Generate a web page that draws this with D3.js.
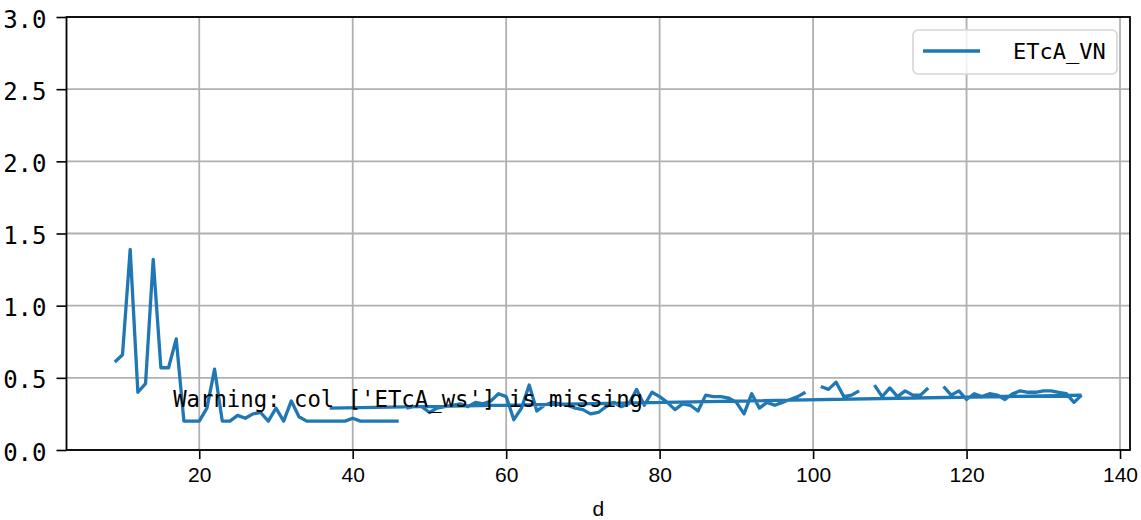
<!DOCTYPE html>
<html>
<head>
<meta charset="utf-8">
<script src="https://cdn.jsdelivr.net/npm/d3@7"></script>
<style>
    body { margin: 0; background: #fff; }
</style>
</head>
<body>
<div id="chart"></div>
<script>
// Day number and ETcA_VN value; null marks a break in the line
const days = [
    9, 10, 11, 12, 13, 14, 15, 16, 17, 18, 19, 20, 21, 22, 23, 24, 25, 26, 27, 28,
    29, 30, 31, 32, 33, 34, 35, 36, 37, 38, 39, 40, 41, 42, 43, 44, 45, 46, null,
    47, 48, 49, 50, 51, 52, 53, 54, 55, 56, 57, 58, 59, 60, 61, 62, 63, 64, 65, 66,
    67, 68, 69, 70, 71, 72, 73, 74, 75, 76, 77, 78, 79, 80, 81, 82, 83, 84, 85, 86,
    87, 88, 89, 90, 91, 92, 93, 94, 95, 96, 97, 98, 99, null,
    101, 102, 103, 104, 105, 106, null,
    108, 109, 110, 111, 112, 113, 114, 115, null,
    117, 118, 119, 120, 121, 122, 123, 124, 125, 126, 127, 128, 129, 130, 131, 132,
    133, 134, 135, null,
    37, 135
];
const etcaVN = [
    0.61, 0.66, 1.39, 0.40, 0.46, 1.32, 0.57, 0.57, 0.77, 0.20, 0.20, 0.20, 0.29, 0.56, 0.20, 0.20, 0.24, 0.22, 0.25, 0.26,
    0.20, 0.29, 0.20, 0.34, 0.23, 0.20, 0.20, 0.20, 0.20, 0.20, 0.20, 0.22, 0.20, 0.20, 0.20, 0.20, 0.20, 0.20, null,
    0.29, 0.30, 0.30, 0.26, 0.29, 0.30, 0.31, 0.32, 0.30, 0.33, 0.32, 0.34, 0.39, 0.37, 0.21, 0.29, 0.45, 0.27, 0.31, 0.33,
    0.32, 0.31, 0.29, 0.28, 0.25, 0.26, 0.30, 0.33, 0.30, 0.32, 0.42, 0.31, 0.40, 0.37, 0.33, 0.28, 0.32, 0.31, 0.27, 0.38,
    0.37, 0.37, 0.36, 0.33, 0.25, 0.39, 0.29, 0.33, 0.31, 0.33, 0.35, 0.37, 0.40, null,
    0.44, 0.42, 0.47, 0.37, 0.38, 0.41, null,
    0.45, 0.37, 0.43, 0.37, 0.41, 0.38, 0.38, 0.43, null,
    0.44, 0.38, 0.41, 0.35, 0.39, 0.37, 0.39, 0.38, 0.35, 0.39, 0.41, 0.40, 0.40, 0.41, 0.41, 0.40,
    0.39, 0.33, 0.38, null,
    0.29, 0.38
];
const xTicks = [20, 40, 60, 80, 100, 120, 140];
const yTicks = [0, 0.5, 1.0, 1.5, 2.0, 2.5, 3.0];
const seriesName = 'ETcA_VN';
const warningText = "Warning: col ['ETcA_ws'] is missing";

const W = 1141, H = 520;
const plot = { left: 66.5, right: 1130, top: 17, bottom: 450 };
const blue = '#1f77b4';
const mono = '"DejaVu Sans Mono", monospace';
const sans = '"Liberation Sans", Arial, sans-serif';

const svg = d3.select('#chart').append('svg')
    .attr('width', W)
    .attr('height', H);

const x = d3.scaleLinear().domain([2.7, 141.3]).range([plot.left, plot.right]);
const y = d3.scaleLinear().domain([0, 3]).range([plot.bottom, plot.top]);

// Grid
svg.append('g')
    .selectAll('line')
    .data(xTicks)
    .enter().append('line')
    .attr('x1', d => x(d)).attr('x2', d => x(d))
    .attr('y1', plot.top).attr('y2', plot.bottom)
    .attr('stroke', '#b0b0b0').attr('stroke-width', 1.8);

svg.append('g')
    .selectAll('line')
    .data(yTicks)
    .enter().append('line')
    .attr('x1', plot.left).attr('x2', plot.right)
    .attr('y1', d => y(d)).attr('y2', d => y(d))
    .attr('stroke', '#b0b0b0').attr('stroke-width', 1.8);

// Series
const pts = days.map((d, i) => ({ d: d, v: etcaVN[i] }));
const line = d3.line()
    .defined(p => p.d !== null && p.v !== null)
    .x(p => x(p.d))
    .y(p => y(p.v));

svg.append('path')
    .datum(pts)
    .attr('d', line)
    .attr('fill', 'none')
    .attr('stroke', blue)
    .attr('stroke-width', 3.3)
    .attr('stroke-linejoin', 'round');

// Warning note
svg.append('text')
    .attr('x', x(16.6))
    .attr('y', y(0.3))
    .attr('font-family', mono)
    .attr('font-size', '22.3px')
    .attr('fill', '#000')
    .text(warningText);

// Axes
const xAxis = svg.append('g')
    .attr('transform', `translate(0,${plot.bottom})`)
    .call(d3.axisBottom(x).tickValues(xTicks).tickSize(9).tickPadding(8).tickFormat(d3.format('d')));
xAxis.select('.domain').remove();
xAxis.selectAll('line').attr('stroke', '#000').attr('stroke-width', 1.6);
xAxis.selectAll('text')
    .attr('font-family', sans)
    .attr('font-size', '21px')
    .attr('fill', '#000');

const yAxis = svg.append('g')
    .attr('transform', `translate(${plot.left},0)`)
    .call(d3.axisLeft(y).tickValues(yTicks).tickSize(10).tickPadding(10).tickFormat(d3.format('.1f')));
yAxis.select('.domain').remove();
yAxis.selectAll('line').attr('stroke', '#000').attr('stroke-width', 1.6);
yAxis.selectAll('text')
    .attr('font-family', mono)
    .attr('font-size', '24px')
    .attr('dy', '10px')
    .attr('fill', '#000');

svg.append('rect')
    .attr('x', plot.left).attr('y', plot.top)
    .attr('width', plot.right - plot.left)
    .attr('height', plot.bottom - plot.top)
    .attr('fill', 'none')
    .attr('stroke', '#000')
    .attr('stroke-width', 1.8);

svg.append('text')
    .attr('x', (plot.left + plot.right) / 2)
    .attr('y', 516)
    .attr('text-anchor', 'middle')
    .attr('font-family', sans)
    .attr('font-size', '21px')
    .attr('fill', '#000')
    .text('d');

// Legend
const legend = svg.append('g');
legend.append('rect')
    .attr('x', 913).attr('y', 30)
    .attr('width', 204).attr('height', 44)
    .attr('rx', 5).attr('ry', 5)
    .attr('fill', '#fff').attr('fill-opacity', 0.8)
    .attr('stroke', '#d5d5d5').attr('stroke-width', 1.6);
legend.append('line')
    .attr('x1', 923).attr('x2', 980)
    .attr('y1', 51).attr('y2', 51)
    .attr('stroke', blue).attr('stroke-width', 3.3);
legend.append('text')
    .attr('x', 1013).attr('y', 59)
    .attr('font-family', mono)
    .attr('font-size', '22px')
    .attr('fill', '#000')
    .text(seriesName);
</script>
</body>
</html>
